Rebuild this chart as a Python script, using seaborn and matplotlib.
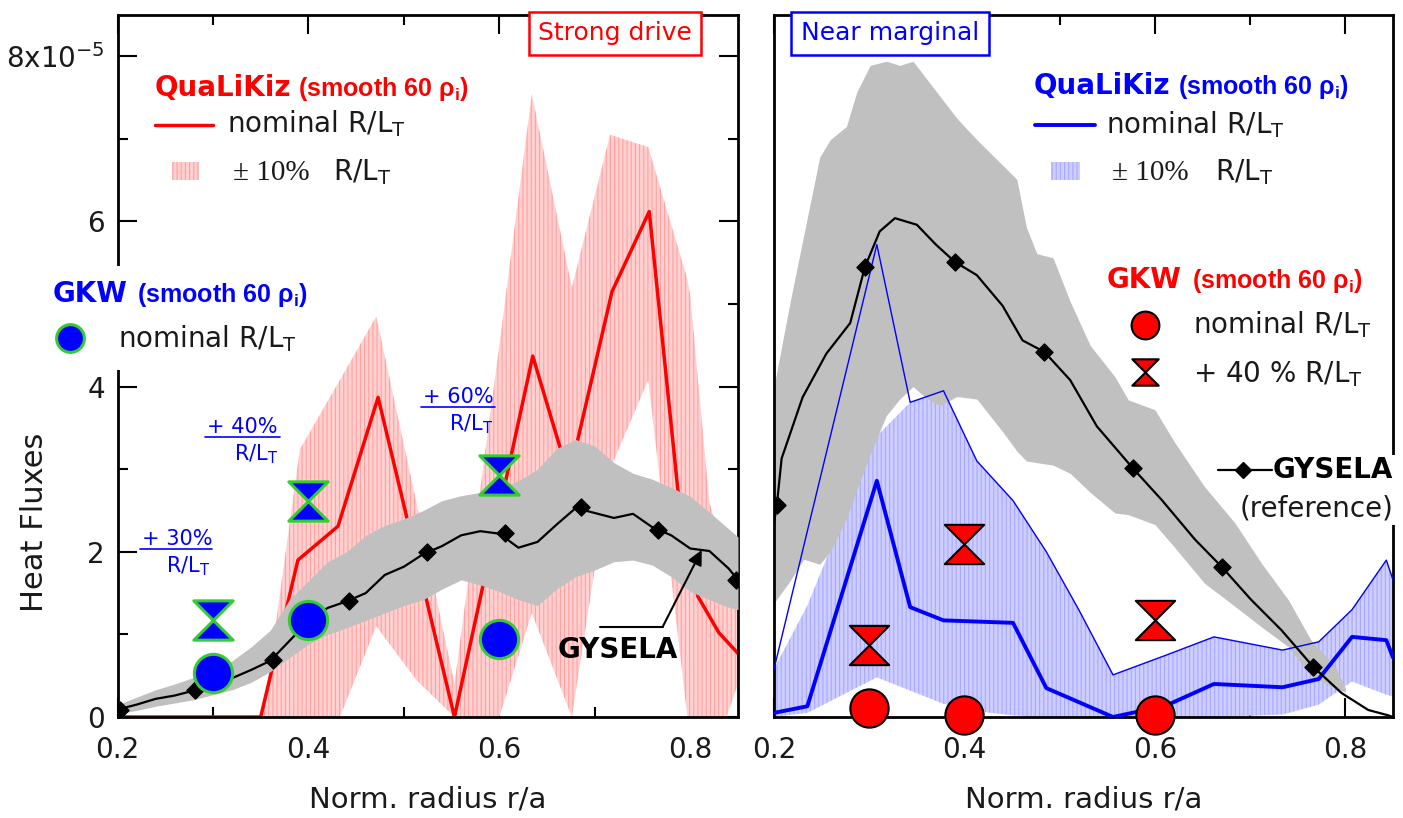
import matplotlib
matplotlib.use("Agg")
import numpy as np
import matplotlib.pyplot as plt
import seaborn as sns
from matplotlib.path import Path
from matplotlib.patches import Rectangle
from matplotlib.lines import Line2D

# ================= DATA (heat flux in units of 1e-5) =================
# ---- Left panel: "Strong drive" ----
gysL_x = [0.20, 0.22, 0.24, 0.26, 0.28, 0.30, 0.32, 0.34, 0.36, 0.38, 0.40, 0.42,
          0.44, 0.46, 0.48, 0.50, 0.52, 0.54, 0.56, 0.58, 0.60, 0.62, 0.64, 0.66,
          0.68, 0.70, 0.72, 0.74, 0.76, 0.78, 0.80, 0.82, 0.84, 0.85]
gysL_mid = [0.09, 0.15, 0.22, 0.26, 0.32, 0.39, 0.47, 0.57, 0.68, 0.92, 1.16, 1.32,
            1.40, 1.50, 1.72, 1.82, 1.97, 2.07, 2.20, 2.25, 2.22, 2.05, 2.12, 2.33,
            2.53, 2.47, 2.41, 2.46, 2.30, 2.20, 2.04, 2.01, 1.80, 1.66]
gysL_lo = [0.04, 0.08, 0.13, 0.17, 0.21, 0.27, 0.33, 0.42, 0.55, 0.72, 0.88, 1.00,
           1.08, 1.17, 1.26, 1.35, 1.42, 1.55, 1.66, 1.60, 1.52, 1.42, 1.35, 1.55,
           1.70, 1.78, 1.88, 1.90, 1.84, 1.70, 1.52, 1.42, 1.33, 1.30]
gysL_hi = [0.15, 0.24, 0.33, 0.40, 0.48, 0.56, 0.68, 0.85, 1.05, 1.42, 1.65, 1.88,
           2.00, 2.20, 2.32, 2.40, 2.50, 2.62, 2.68, 2.72, 2.76, 2.86, 3.00, 3.25,
           3.36, 3.28, 3.08, 2.95, 2.88, 2.78, 2.67, 2.48, 2.28, 2.18]
gysL_mk_x = [0.203, 0.281, 0.363, 0.443, 0.524, 0.606, 0.686, 0.766, 0.848]
gysL_mk_y = [0.09, 0.33, 0.69, 1.40, 2.00, 2.23, 2.54, 2.27, 1.66]

qlkL_x = [0.20, 0.35, 0.389, 0.431, 0.473, 0.553, 0.635, 0.673, 0.718, 0.757,
          0.787, 0.808, 0.83, 0.85]
qlkL_y = [0.0, 0.0, 1.90, 2.31, 3.87, 0.0, 4.37, 2.90, 5.15, 6.12,
          2.75, 1.46, 1.02, 0.77]
qlkL_band_x = [0.35, 0.356, 0.391, 0.433, 0.471, 0.513, 0.553, 0.600, 0.634,
               0.676, 0.716, 0.756, 0.797, 0.80, 0.82, 0.838, 0.85]
qlkL_band_hi = [0.0, 0.3, 3.24, 4.08, 4.85, 2.6, 0.4, 4.5, 7.54,
                5.2, 7.05, 6.9, 5.3, 5.1, 2.6, 1.9, 1.6]
qlkL_band_lo = [0.0, 0.0, 0.0, 0.0, 1.1, 0.45, 0.0, 0.0, 1.26,
                0.0, 3.0, 4.08, 0.0, 0.0, 0.0, 0.0, 0.4]

gkwL_x = [0.3, 0.4, 0.6]
gkwL_nom = [0.53, 1.17, 0.94]
gkwL_boost = [1.18, 2.61, 2.93]
gkwL_boost_lbl = ['+ 30%', '+ 40%', '+ 60%']

# ---- Right panel: "Near marginal" ----
gysR_x = [0.200, 0.203, 0.208, 0.23, 0.255, 0.28, 0.2955, 0.311, 0.327, 0.35,
          0.37, 0.39, 0.413, 0.44, 0.461, 0.484, 0.511, 0.539, 0.577, 0.607,
          0.642, 0.67, 0.701, 0.733, 0.766, 0.796, 0.824, 0.845, 0.85]
gysR_mid = [2.35, 2.57, 3.13, 3.87, 4.40, 4.77, 5.45, 5.88, 6.04, 5.96,
            5.72, 5.51, 5.35, 4.98, 4.56, 4.42, 4.08, 3.52, 3.01, 2.63,
            2.15, 1.82, 1.42, 1.05, 0.61, 0.29, 0.085, 0.02, 0.0]
gysR_band_x = [0.200, 0.217, 0.231, 0.248, 0.259, 0.276, 0.287, 0.301, 0.318, 0.332,
               0.346, 0.360, 0.374, 0.392, 0.413, 0.441, 0.455, 0.465, 0.476, 0.493,
               0.511, 0.532, 0.558, 0.572, 0.600, 0.621, 0.652, 0.684, 0.712, 0.740,
               0.764, 0.789, 0.800]
gysR_hi = [4.00, 5.03, 5.82, 6.78, 6.99, 7.15, 7.57, 7.89, 7.94, 7.89,
           7.94, 7.73, 7.52, 7.25, 6.99, 6.67, 6.51, 5.93, 5.61, 5.56,
           5.03, 4.50, 4.12, 3.84, 3.72, 3.32, 2.79, 2.35, 1.86, 1.42,
           0.93, 0.62, 0.35]
gysR_lo = [1.38, 1.65, 1.91, 1.85, 2.00, 2.40, 2.75, 3.18, 3.65, 3.85,
           4.00, 3.86, 3.77, 3.88, 3.85, 3.44, 3.22, 3.10, 3.08, 3.05,
           2.95, 2.72, 2.47, 2.45, 2.33, 2.05, 1.62, 1.34, 1.09, 0.85,
           0.50, 0.35, 0.30]
gysR_mk_x = [0.203, 0.2955, 0.39, 0.484, 0.577, 0.67, 0.766]
gysR_mk_y = [2.57, 5.45, 5.51, 4.42, 3.01, 1.82, 0.61]

qlkR_x = [0.20, 0.235, 0.308, 0.343, 0.378, 0.451, 0.486, 0.556, 0.612, 0.662,
          0.734, 0.772, 0.807, 0.843, 0.85]
qlkR_y = [0.05, 0.13, 2.86, 1.33, 1.17, 1.14, 0.35, 0.0, 0.14, 0.40,
          0.36, 0.46, 0.97, 0.93, 0.72]
qlkR_band_x = [0.20, 0.235, 0.308, 0.343, 0.378, 0.413, 0.451, 0.486, 0.52, 0.556,
               0.612, 0.662, 0.734, 0.772, 0.807, 0.843, 0.85]
qlkR_plus = [0.58, 2.25, 5.72, 3.81, 3.95, 3.10, 2.62, 2.00, 1.30, 0.51,
             0.75, 0.97, 0.81, 0.91, 1.30, 1.90, 1.66]
qlkR_band_hi = [0.58, 1.35, 3.40, 3.81, 3.95, 3.10, 2.62, 2.00, 1.30, 0.51,
                0.75, 0.97, 0.81, 0.91, 1.30, 1.90, 1.66]
qlkR_band_lo = [0.0, 0.05, 0.48, 0.32, 0.16, 0.07, 0.02, 0.0, 0.0, 0.0,
                0.0, 0.0, 0.03, 0.15, 0.43, 0.27, 0.25]

gkwR_x = [0.3, 0.4, 0.6]
gkwR_nom = [0.11, 0.03, 0.02]
gkwR_boost = [0.87, 2.09, 1.18]

x_ticks = [0.2, 0.4, 0.6, 0.8]
x_tick_labels = ['0.2', '0.4', '0.6', '0.8']
x_minor = [0.3, 0.5, 0.7]
y_ticks = [0, 2, 4, 6, 8]
y_tick_labels = ['0', '2', '4', '6', r'8x10$^{-5}$']
y_minor = [1, 3, 5, 7]

# ================= STYLE =================
RED = '#ff0000'
BLUE = '#0000ff'
GREEN = '#33cc33'
GRAY = '#c0c0c0'
PINK = '#ffd0d0'
PINK_H = '#ffa0a0'
LBLUE = '#cdcdff'
LBLUE_H = '#a8a8ff'
TXT = '#1a1a1a'
NARROW = ['Liberation Sans', 'DejaVu Sans']

sns.set_theme(style='ticks')
plt.rcParams['font.family'] = ['DejaVu Sans']
plt.rcParams['mathtext.default'] = 'regular'
plt.rcParams['hatch.linewidth'] = 0.8

W, H = 1403, 818
AX_B, AX_T = 717, 15
fig = plt.figure(figsize=(W / 100, H / 100), dpi=100)
fig.patch.set_facecolor('white')
axL = fig.add_axes([117.5 / W, 1 - AX_B / H, (738 - 117.5) / W, (AX_B - AX_T) / H])
axR = fig.add_axes([774 / W, 1 - AX_B / H, (1393 - 774) / W, (AX_B - AX_T) / H])

hourglass = Path([(-1, 1), (1, 1), (0, 0), (1, -1), (-1, -1), (0, 0), (-1, 1)],
                 [Path.MOVETO, Path.LINETO, Path.LINETO, Path.LINETO,
                  Path.LINETO, Path.LINETO, Path.CLOSEPOLY])


def F(px, py):
    return px / W, 1 - py / H


def ftext(px, py, s, **kw):
    kw.setdefault('va', 'baseline')
    kw.setdefault('color', TXT)
    kw.setdefault('fontsize', 20)
    fig.text(px / W, 1 - py / H, s, **kw)


# ================= LEFT PANEL =================
axL.fill_between(qlkL_band_x, qlkL_band_lo, qlkL_band_hi, facecolor=PINK,
                 edgecolor=PINK_H, hatch='||||', linewidth=0, zorder=1)
sns.lineplot(x=qlkL_x, y=qlkL_y, ax=axL, color=RED, lw=2.5, zorder=2)
axL.fill_between(gysL_x, gysL_lo, gysL_hi, color=GRAY, linewidth=0, zorder=3)
sns.lineplot(x=gysL_x, y=gysL_mid, ax=axL, color='black', lw=1.6, zorder=4)
axL.scatter(gysL_mk_x, gysL_mk_y, marker='D', s=75, color='black', zorder=5)
axL.scatter(gkwL_x, gkwL_nom, marker='o', s=760, facecolor=BLUE, edgecolor=GREEN,
            linewidth=2.2, zorder=6, clip_on=False)
axL.scatter(gkwL_x, gkwL_boost, marker=hourglass, s=800, facecolor=BLUE,
            edgecolor=GREEN, linewidth=2.2, zorder=6, clip_on=False)

# GYSELA arrow annotation
head_x = 0.812
head_y = float(np.interp(head_x, gysL_x, gysL_mid))
axL.plot([0.705, 0.771], [1.09, 1.09], color='black', lw=1.5, zorder=7)
axL.annotate('', xy=(head_x, head_y), xytext=(0.771, 1.09),
             arrowprops=dict(arrowstyle='-|>', color='black', lw=1.5,
                             mutation_scale=22, shrinkA=0, shrinkB=0), zorder=7)

# ================= RIGHT PANEL =================
axR.fill_between(qlkR_band_x, qlkR_band_lo, qlkR_band_hi, facecolor=LBLUE,
                 edgecolor=LBLUE_H, hatch='||||', linewidth=0, zorder=1)
axR.fill_between(gysR_band_x, gysR_lo, gysR_hi, color=GRAY, linewidth=0, zorder=2)
sns.lineplot(x=qlkR_band_x, y=qlkR_plus, ax=axR, color=BLUE, lw=1.0, zorder=3)
sns.lineplot(x=qlkR_x, y=qlkR_y, ax=axR, color=BLUE, lw=2.8, zorder=3)
sns.lineplot(x=gysR_x, y=gysR_mid, ax=axR, color='black', lw=1.6, zorder=4)
axR.scatter(gysR_mk_x, gysR_mk_y, marker='D', s=75, color='black', zorder=5)
axR.scatter(gkwR_x, gkwR_nom, marker='o', s=760, facecolor=RED, edgecolor='black',
            linewidth=1.5, zorder=6, clip_on=False)
axR.scatter(gkwR_x, gkwR_boost, marker=hourglass, s=800, facecolor=RED,
            edgecolor='black', linewidth=1.5, zorder=6, clip_on=False)

# ================= AXES STYLING =================
for ax in (axL, axR):
    ax.set_xlim(0.2, 0.85)
    ax.set_ylim(0, 8.5)
    ax.set_xlabel('')
    ax.set_ylabel('')
    ax.set_facecolor('white')
    ax.set_xticks(x_ticks)
    ax.set_xticklabels(x_tick_labels)
    ax.set_xticks(x_minor, minor=True)
    ax.tick_params(axis='x', which='major', direction='in', length=14, width=1.5,
                   top=True, bottom=True, labelsize=20, pad=14, colors='black',
                   labelcolor=TXT)
    ax.tick_params(axis='x', which='minor', direction='in', length=7, width=1.5,
                   top=True, bottom=True, colors='black')
    for sp in ax.spines.values():
        sp.set_linewidth(2)
        sp.set_color('black')
        sp.set_visible(True)

axL.set_yticks(y_ticks)
axL.set_yticklabels(y_tick_labels)
axL.set_yticks(y_minor, minor=True)
axL.tick_params(axis='y', which='major', direction='in', length=14, width=1.5,
                left=True, right=True, labelsize=20, pad=9, colors='black',
                labelcolor=TXT)
axL.tick_params(axis='y', which='minor', direction='in', length=7, width=1.5,
                left=True, right=True, colors='black')
axR.set_yticks([])
axR.tick_params(axis='y', left=False, right=False, labelleft=False)

# axis titles
fig.text(35 / W, 1 - 522 / H, 'Heat Fluxes', rotation=90, ha='center', va='center',
         fontsize=22, color=TXT)
fig.text(428 / W, 1 - 800 / H, 'Norm. radius r/a', ha='center', va='center',
         fontsize=21, color=TXT)
fig.text(1084 / W, 1 - 800 / H, 'Norm. radius r/a', ha='center', va='center',
         fontsize=21, color=TXT)

# white gaps in spines behind text blocks
fig.add_artist(Rectangle(F(106, 370), 22 / W, 104 / H, transform=fig.transFigure,
                         facecolor='white', edgecolor='none', zorder=2.5))
fig.add_artist(Rectangle(F(1384, 525), 19 / W, 70 / H, transform=fig.transFigure,
                         facecolor='white', edgecolor='none', zorder=2.5))

# panel titles (boxes)
fig.text(615 / W, 1 - 33 / H, 'Strong drive', ha='center', va='center', fontsize=18,
         color=RED, zorder=4,
         bbox=dict(boxstyle='square,pad=0.38', facecolor='white', edgecolor=RED, lw=1.8))
fig.text(890 / W, 1 - 33 / H, 'Near marginal', ha='center', va='center', fontsize=18,
         color=BLUE, zorder=4,
         bbox=dict(boxstyle='square,pad=0.38', facecolor='white', edgecolor=BLUE, lw=1.8))

# ---- left legends ----
ftext(155, 96, 'QuaLiKiz', color=RED, weight='bold')
ftext(298, 96, '(smooth 60 ρ$_{i}$)', color=RED, weight='bold', family=NARROW, fontsize=18)
fig.add_artist(Line2D([155 / W, 213 / W], [1 - 125 / H] * 2, color=RED, lw=2.5))
ftext(227, 132, 'nominal R/L$_{T}$')
fig.add_artist(Rectangle(F(172, 180), 27 / W, 18 / H, transform=fig.transFigure,
                         facecolor=PINK, edgecolor=PINK_H, hatch='||||', lw=0))
ftext(233, 180, '± 10%', family=['Liberation Serif', 'DejaVu Serif'], fontsize=21)
ftext(333, 180, 'R/L$_{T}$')

ftext(53, 302, 'GKW', color=BLUE, weight='bold')
ftext(137, 302, '(smooth 60 ρ$_{i}$)', color=BLUE, weight='bold', family=NARROW, fontsize=18)
fig.add_artist(Line2D([70 / W], [1 - 338 / H], marker='o', ms=20, mfc=BLUE, mec=GREEN,
                      mew=2.2, transform=fig.transFigure))
ftext(118, 347, 'nominal R/L$_{T}$')

# boost labels near GKW hourglasses
boost_pos = [(142, 545, 140, 212, 548.5, 572), (207, 433, 205, 280, 437, 460),
             (423, 403, 421, 495, 406.5, 430)]
for lbl, (tx, ty, u0, u1, uy, ry) in zip(gkwL_boost_lbl, boost_pos):
    ftext(tx, ty, lbl, color=BLUE, fontsize=15)
    fig.add_artist(Line2D([u0 / W, u1 / W], [1 - uy / H] * 2, color=BLUE, lw=1.2))
    ftext(u1 - 2, ry, 'R/L$_{T}$', color=BLUE, fontsize=15, ha='right')

ftext(558, 658, 'GYSELA', weight='bold', color='black')

# ---- right legends ----
ftext(1034, 94, 'QuaLiKiz', color=BLUE, weight='bold')
ftext(1178, 94, '(smooth 60 ρ$_{i}$)', color=BLUE, weight='bold', family=NARROW, fontsize=18)
fig.add_artist(Line2D([1035 / W, 1095 / W], [1 - 125 / H] * 2, color=BLUE, lw=2.8))
ftext(1106, 133, 'nominal R/L$_{T}$')
fig.add_artist(Rectangle(F(1051, 180), 29 / W, 18 / H, transform=fig.transFigure,
                         facecolor=LBLUE, edgecolor=LBLUE_H, hatch='||||', lw=0))
ftext(1112, 180, '± 10%', family=['Liberation Serif', 'DejaVu Serif'], fontsize=21)
ftext(1215, 180, 'R/L$_{T}$')

ftext(1107, 288, 'GKW', color=RED, weight='bold')
ftext(1192, 288, '(smooth 60 ρ$_{i}$)', color=RED, weight='bold', family=NARROW, fontsize=18)
fig.add_artist(Line2D([1145 / W], [1 - 325 / H], marker='o', ms=20, mfc=RED, mec='black',
                      mew=1.5, transform=fig.transFigure))
ftext(1193, 333, 'nominal R/L$_{T}$')
fig.add_artist(Line2D([1145 / W], [1 - 372 / H], marker=hourglass, ms=19, mfc=RED,
                      mec='black', mew=1.5, transform=fig.transFigure))
ftext(1193, 382, '+ 40 % R/L$_{T}$')

fig.add_artist(Line2D([1218 / W, 1272 / W], [1 - 470 / H] * 2, color='black', lw=1.6,
                      transform=fig.transFigure, zorder=3))
fig.add_artist(Line2D([1243 / W], [1 - 470 / H], marker='D', ms=8, color='black',
                      transform=fig.transFigure, zorder=3))
ftext(1273, 478, 'GYSELA', weight='bold', color='black')
ftext(1317, 517, '(reference)', ha='center')

fig.savefig('out.png', dpi=100, facecolor='white')
